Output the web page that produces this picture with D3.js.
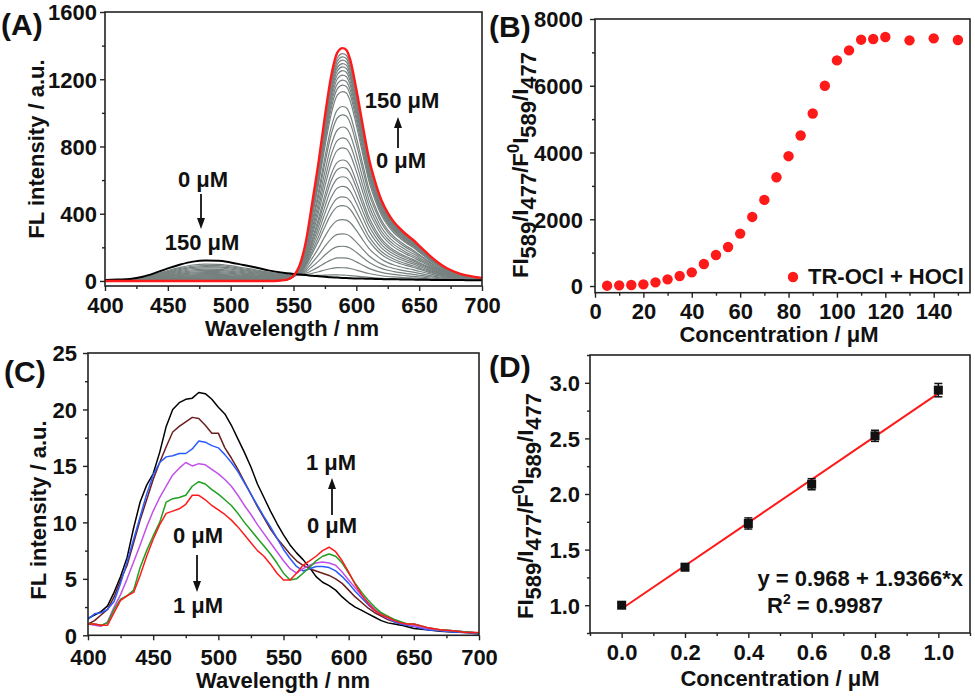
<!DOCTYPE html>
<html><head><meta charset="utf-8">
<script src="https://cdn.jsdelivr.net/npm/d3@7"></script>
<style>
body{margin:0;background:#fff}
text{font-family:"Liberation Sans",Arial,sans-serif;font-weight:bold;fill:#111}
</style>
</head><body>
<svg id="c" width="975" height="696"></svg>
<script>
// ---------- Panel A data ----------
const wlA = [400,410,420,430,440,450,460,470,480,490,500,510,520,530,540,545,550,555,560,565,570,575,580,585,589,592,595,600,605,610,615,620,625,630,635,640,645,650,655,660,665,670,675,680,685,690,695,700];
const redA = [0,0,0,0,0,0,0,0,0,0,0,0,0,0,3,8,30,95,240,470,710,980,1220,1360,1385,1375,1320,1140,930,730,590,480,405,350,310,275,245,210,175,140,110,85,65,50,38,30,23,18];
const blackA = [5,8,12,25,48,75,98,115,121,120,110,95,80,63,50,46,42,38,35,31,28,25,22,20,18,17,16,15,14,13,12,11,10,10,9,8,8,7,7,6,6,6,5,5,5,4,4,4];
// intermediate (grey) spectra: intensity read at 589 nm and at 477 nm
const grayPeak589 = [20,65,125,195,270,356,440,493,556,614,670,715,788,848,913,986,1036,1125,1164,1194,1224,1250,1273,1293,1313,1333,1352];
const grayPeak477 = [100,92,85,78,70,63,56,50,44,39,34,30,26,22,19,16,13,11,9,7,6,5,4,3,2,1,1];

// ---------- Panel B data ----------
const concB = [5,10,15,20,25,30,35,40,45,50,55,60,65,70,75,80,85,90,95,100,105,110,115,120,130,140,150];
const ratioB = [10,20,30,50,110,200,300,410,660,930,1170,1570,2070,2580,3260,3890,4510,5170,6000,6760,7060,7380,7400,7460,7360,7420,7370];

// ---------- Panel C data ----------
const wlC = [400,405,410,415,420,425,430,435,440,445,450,455,460,465,470,475,480,485,490,495,500,505,510,515,520,525,530,535,540,545,550,555,560,565,570,575,580,585,590,595,600,605,610,615,620,625,630,635,640,645,650,660,670,680,690,700];
const cBlack   = [1.5,1.8,2.1,2.6,3.8,5.2,6.9,9.5,11.8,13.3,14.3,16.2,18.5,20.0,20.6,20.9,21.0,21.5,21.4,20.9,20.2,19.6,18.6,17.4,16.2,14.9,13.4,12.2,11.0,9.9,8.9,8.0,7.3,6.7,6.0,5.2,4.7,4.4,4.0,3.4,2.9,2.5,2.2,1.9,1.6,1.3,1.1,1.0,0.9,0.75,0.6,0.5,0.35,0.3,0.25,0.2];
const cMaroon  = [1.0,1.3,1.8,2.3,3.4,4.9,6.2,8.2,10.2,12.0,13.8,15.3,16.7,18.0,18.5,18.9,19.3,19.2,18.6,17.9,17.9,16.6,15.7,14.7,13.6,12.5,11.4,10.4,9.4,8.6,7.9,7.2,6.6,6.2,5.9,5.7,5.5,5.3,5.0,4.6,4.0,3.4,2.9,2.4,2.0,1.7,1.4,1.2,1.0,0.9,0.8,0.6,0.45,0.4,0.3,0.2];
const cBlue    = [1.4,1.9,2.0,2.3,3.0,4.6,6.5,8.5,10.5,12.5,14.2,15.3,15.8,15.9,16.1,16.1,16.5,17.2,17.1,16.8,16.6,16.0,15.3,14.5,13.5,12.5,11.5,10.5,9.6,8.6,7.6,6.8,6.1,5.7,5.9,6.1,6.1,6.0,5.7,5.2,4.6,3.9,3.3,2.7,2.2,1.8,1.5,1.2,1.0,0.9,0.8,0.5,0.4,0.3,0.25,0.1];
const cMagenta = [1.0,0.9,0.8,1.2,2.5,3.6,5.0,6.5,8.0,9.6,11.0,12.2,13.2,14.2,14.8,15.3,15.0,15.2,15.1,14.7,14.3,13.8,13.2,12.4,11.5,10.7,9.8,9.0,8.2,7.4,6.6,5.9,5.5,5.9,6.2,6.4,6.5,6.4,6.2,5.6,4.9,4.2,3.5,2.9,2.3,1.9,1.5,1.3,1.1,0.95,0.85,0.6,0.45,0.4,0.3,0.2];
const cGreen   = [1.0,1.0,0.9,1.1,2.3,3.2,3.5,4.0,6.0,7.5,8.8,10.0,11.8,12.1,12.2,12.4,13.2,13.6,13.4,12.9,12.5,12.0,11.5,10.8,10.0,9.3,8.6,7.9,7.2,6.4,5.5,4.9,5.0,5.5,6.0,6.6,7.0,7.2,7.0,6.4,5.5,4.6,3.8,3.1,2.5,2.0,1.7,1.4,1.2,1.0,1.0,0.7,0.5,0.4,0.3,0.2];
const cRed     = [1.0,1.0,0.9,0.9,2.0,3.1,3.5,3.8,5.3,7.0,8.5,9.8,10.8,11.0,11.2,11.6,12.4,12.4,12.0,11.5,11.1,10.7,10.2,9.6,8.9,8.2,7.5,7.0,6.3,5.5,4.9,4.9,5.5,6.2,6.6,7.0,7.5,7.8,7.4,6.6,5.6,4.5,3.6,2.8,2.2,1.8,1.6,1.3,1.1,1.0,1.0,0.7,0.5,0.4,0.25,0.25];
const cSeries = [cBlack,cMaroon,cBlue,cMagenta,cGreen,cRed];
const cColors = ["#000000","#6b1f1f","#2b5bff","#c251e8","#1fa01f","#ff1a1a"];

// ---------- Panel D data ----------
const concD = [0,0.2,0.4,0.6,0.8,1.0];
const ratioD = [1.0,1.342,1.735,2.088,2.523,2.934];
const errD = [0.02,0.03,0.05,0.05,0.05,0.06];
const fitIntercept = 0.968, fitSlope = 1.9366;

const svg = d3.select("#c");
const fInt = d3.format("d"), f1 = d3.format(".1f");

function panel(o){
  const x = d3.scaleLinear().domain(o.xd).range([o.l,o.r]);
  const y = d3.scaleLinear().domain(o.yd).range([o.b,o.t]);
  const g = svg.append("g");
  g.append("g").attr("transform",`translate(0,${o.b})`)
    .call(d3.axisBottom(x).tickValues(o.xMinor).tickSize(3).tickFormat(""))
    .call(a=>a.select(".domain").remove());
  g.append("g").attr("transform",`translate(${o.l},0)`)
    .call(d3.axisLeft(y).tickValues(o.yMinor).tickSize(3).tickFormat(""))
    .call(a=>a.select(".domain").remove());
  const xa = g.append("g").attr("transform",`translate(0,${o.b})`)
    .call(d3.axisBottom(x).tickValues(o.xTicks).tickSize(5).tickFormat(o.xf||fInt));
  xa.select(".domain").remove();
  xa.selectAll("text").attr("y",o.xlab).attr("dy",0).style("font-size","22px");
  const ya = g.append("g").attr("transform",`translate(${o.l},0)`)
    .call(d3.axisLeft(y).tickValues(o.yTicks).tickSize(5).tickFormat(o.yf||fInt));
  ya.select(".domain").remove();
  ya.selectAll("text").attr("x",o.ylab).attr("dy","0.36em").style("font-size","22px");
  g.selectAll(".tick line").attr("stroke","#222").attr("stroke-width",1.4);
  g.selectAll("text").attr("fill","#111").style("font-family","'Liberation Sans',Arial,sans-serif").style("font-weight","bold");
  const id = "clip"+o.name;
  svg.append("clipPath").attr("id",id).append("rect")
    .attr("x",o.l).attr("y",o.t).attr("width",o.r-o.l).attr("height",o.b-o.t);
  const plot = svg.append("g").attr("clip-path",`url(#${id})`);
  return {x,y,g,plot,o};
}
function frame(p){
  const o=p.o;
  svg.append("rect").attr("x",o.l).attr("y",o.t).attr("width",o.r-o.l).attr("height",o.b-o.t)
    .attr("fill","none").attr("stroke","#222").attr("stroke-width",1.6);
}
function ylabel(parts, cx, cy){
  const t = svg.append("text").attr("transform",`translate(${cx},${cy}) rotate(-90)`)
    .attr("text-anchor","middle").style("font-size","22px");
  parts.forEach(pt=>{
    const s = t.append("tspan").text(pt.t);
    if(pt.dy) s.attr("dy",pt.dy);
    if(pt.fs) s.style("font-size",pt.fs);
  });
  return t;
}
function txt(s,x,y,anchor,fs){
  return svg.append("text").attr("x",x).attr("y",y).attr("text-anchor",anchor||"start")
    .style("font-size",(fs||22)+"px").text(s);
}
function arrow(x,y1,y2){
  const dir = y2>y1?1:-1;
  svg.append("line").attr("x1",x).attr("x2",x).attr("y1",y1).attr("y2",y2-dir*8)
    .attr("stroke","#111").attr("stroke-width",1.8);
  svg.append("path").attr("d",`M${x-4},${y2-dir*11}L${x+4},${y2-dir*11}L${x},${y2}Z`).attr("fill","#111");
}

// ================= Panel A =================
const pA = panel({name:"A",l:105,r:482,t:12,b:286,xd:[400,700],yd:[-30,1600],
  xTicks:[400,450,500,550,600,650,700],xMinor:d3.range(425,700,50),
  yTicks:[0,400,800,1200,1600],yMinor:[200,600,1000,1400],xlab:27,ylab:-8});
const lineA = d3.line().x((d,i)=>pA.x(wlA[i])).y(d=>pA.y(d)).curve(d3.curveMonotoneX);
grayPeak589.forEach((p,k)=>{
  const vals = wlA.map((w,i)=> p/1385*redA[i] + grayPeak477[k]/121*blackA[i]);
  pA.plot.append("path").datum(vals).attr("d",lineA).attr("fill","none")
    .attr("stroke","#76817f").attr("stroke-width",1.2);
});
pA.plot.append("path").datum(blackA).attr("d",lineA).attr("fill","none").attr("stroke","#000").attr("stroke-width",2);
pA.plot.append("path").datum(redA).attr("d",lineA).attr("fill","none").attr("stroke","#ff1a1a").attr("stroke-width",2.4);
frame(pA);
txt("Wavelength / nm",292,336,"middle");
ylabel([{t:"FL intensity / a.u."}],44,149);
txt("0 μM",203,187,"middle");
arrow(201,194,229);
txt("150 μM",202,250,"middle");
txt("150 μM",402,108,"middle");
arrow(398,148,117);
txt("0 μM",401,168,"middle");
txt("(A)",1,35,"start",30);

// ================= Panel B =================
const pB = panel({name:"B",l:595,r:970,t:19,b:292.7,xd:[0,155],yd:[-200,8000],
  xTicks:[0,20,40,60,80,100,120,140],xMinor:d3.range(10,155,20),
  yTicks:[0,2000,4000,6000,8000],yMinor:[1000,3000,5000,7000],xlab:26,ylab:-12});
pB.plot.selectAll("circle").data(concB).join("circle")
  .attr("cx",d=>pB.x(d)).attr("cy",(d,i)=>pB.y(ratioB[i])).attr("r",5.2).attr("fill","#ff1a1a");
frame(pB);
svg.append("circle").attr("cx",793).attr("cy",277).attr("r",5.2).attr("fill","#ff1a1a");
txt("TR-OCl + HOCl",808,284,"start");
txt("Concentration / μM",779,342,"middle");
const ratioLabel = [{t:"FI"},{t:"589",dy:"8"},{t:"/I",dy:"-8"},{t:"477",dy:"8"},{t:"/F",dy:"-8"},{t:"0",dy:"-9",fs:"17px"},{t:"I",dy:"9"},{t:"589",dy:"8"},{t:"/I",dy:"-8"},{t:"477",dy:"8"}];
ylabel(ratioLabel,528,165);
txt("(B)",489,37,"start",30);

// ================= Panel C =================
const pC = panel({name:"C",l:88,r:479,t:353,b:635.3,xd:[400,700],yd:[0,25],
  xTicks:[400,450,500,550,600,650,700],xMinor:d3.range(425,700,50),
  yTicks:[0,5,10,15,20,25],yMinor:[2.5,7.5,12.5,17.5,22.5],xlab:30,ylab:-11});
const lineC = d3.line().x((d,i)=>pC.x(wlC[i])).y(d=>pC.y(d));
cSeries.forEach((s,k)=>{
  pC.plot.append("path").datum(s).attr("d",lineC).attr("fill","none")
    .attr("stroke",cColors[k]).attr("stroke-width",1.5).attr("stroke-linejoin","round");
});
frame(pC);
txt("Wavelength / nm",283,688,"middle");
ylabel([{t:"FL intensity / a.u."}],46,510);
txt("1 μM",331,470,"middle");
arrow(332,515,478);
txt("0 μM",332,533,"middle");
txt("0 μM",198,543,"middle");
arrow(197,555,592);
txt("1 μM",198,613,"middle");
txt("(C)",4,382,"start",30);

// ================= Panel D =================
const pD = panel({name:"D",l:590,r:970,t:355,b:633,xd:[-0.1,1.1],yd:[0.75,3.25],
  xTicks:[0,0.2,0.4,0.6,0.8,1.0],xMinor:[-0.1,0.1,0.3,0.5,0.7,0.9,1.1],
  yTicks:[1.0,1.5,2.0,2.5,3.0],yMinor:[0.75,1.25,1.75,2.25,2.75,3.25],xlab:27,ylab:-10,
  xf:f1,yf:f1});
pD.plot.append("line").attr("x1",pD.x(0)).attr("x2",pD.x(1))
  .attr("y1",pD.y(fitIntercept)).attr("y2",pD.y(fitIntercept+fitSlope))
  .attr("stroke","#ff1a1a").attr("stroke-width",2);
concD.forEach((c,i)=>{
  const cx=pD.x(c), y1=pD.y(ratioD[i]-errD[i]), y2=pD.y(ratioD[i]+errD[i]);
  pD.plot.append("line").attr("x1",cx).attr("x2",cx).attr("y1",y1).attr("y2",y2).attr("stroke","#111").attr("stroke-width",1.5);
  [y1,y2].forEach(yy=>pD.plot.append("line").attr("x1",cx-4).attr("x2",cx+4).attr("y1",yy).attr("y2",yy).attr("stroke","#111").attr("stroke-width",1.5));
  pD.plot.append("rect").attr("x",cx-4.5).attr("y",pD.y(ratioD[i])-4.5).attr("width",9).attr("height",9).attr("fill","#111");
});
frame(pD);
txt("y = 0.968 + 1.9366*x",963,586,"end");
const r2 = svg.append("text").attr("x",767).attr("y",613).style("font-size","22px");
r2.append("tspan").text("R");
r2.append("tspan").text("2").attr("dy",-9).style("font-size","14px");
r2.append("tspan").text(" = 0.9987").attr("dy",9);
txt("Concentration / μM",780,686,"middle");
ylabel(ratioLabel,533,506);
txt("(D)",489,377,"start",30);
</script>
</body></html>
